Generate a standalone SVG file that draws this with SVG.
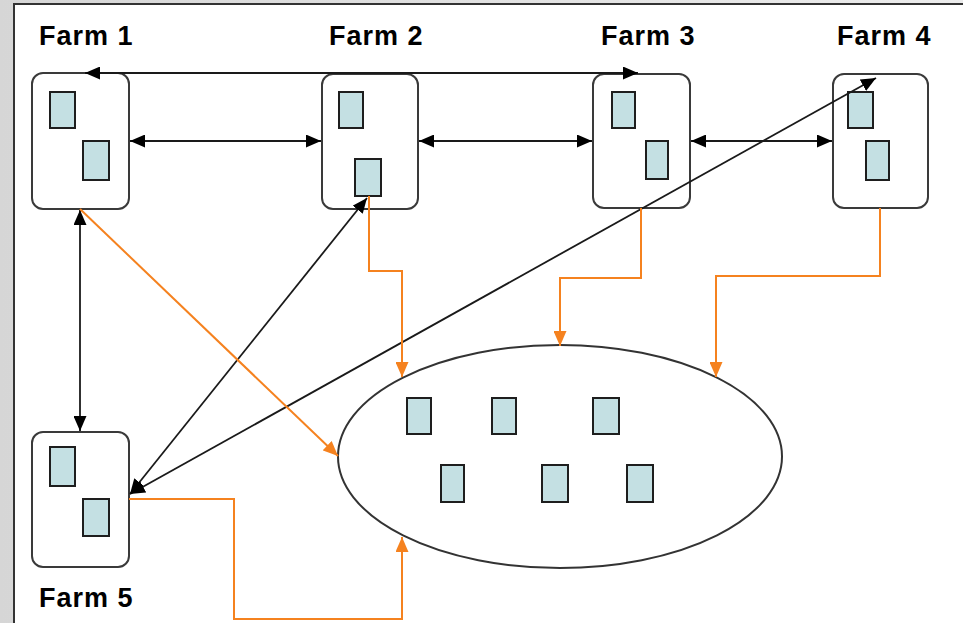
<svg xmlns="http://www.w3.org/2000/svg" width="963" height="623" viewBox="0 0 963 623">
  <style>
    .farm { fill: #ffffff; stroke: #3a3a3a; stroke-width: 2; }
    .host { fill: #c4e0e3; stroke: #1e1e1e; stroke-width: 2; }
    .label { font-family: "Liberation Sans", Arial, sans-serif; font-weight: bold; font-size: 27px; letter-spacing: 1px; fill: #000; }
    .link { fill: none; stroke: #1a1a1a; stroke-width: 1.8; }
    .flow { fill: none; stroke: #f5821f; stroke-width: 2; }
  </style>
  <defs>
    <linearGradient id="bg" x1="0" y1="0" x2="1" y2="0">
      <stop offset="0" stop-color="#d6d6d6"/>
      <stop offset="1" stop-color="#ececec"/>
    </linearGradient>
    <marker id="arrowEnd" viewBox="0 0 15 13" refX="15" refY="6.5" markerWidth="15" markerHeight="13" markerUnits="userSpaceOnUse" orient="auto">
      <path d="M0,0 L15,6.5 L0,13 Z" fill="#000"/>
    </marker>
    <marker id="arrowStart" viewBox="0 0 15 13" refX="0" refY="6.5" markerWidth="15" markerHeight="13" markerUnits="userSpaceOnUse" orient="auto">
      <path d="M15,0 L0,6.5 L15,13 Z" fill="#000"/>
    </marker>
    <marker id="flowEnd" viewBox="0 0 15 13" refX="15" refY="6.5" markerWidth="15" markerHeight="13" markerUnits="userSpaceOnUse" orient="auto">
      <path d="M0,0 L15,6.5 L0,13 Z" fill="#f5821f"/>
    </marker>
  </defs>

  <!-- page background and frame -->
  <rect x="0" y="0" width="963" height="623" fill="url(#bg)"/>
  <rect x="14" y="4" width="949" height="619" fill="#ffffff"/>
  <path d="M14,623 L14,4 L963,4" fill="none" stroke="#333" stroke-width="2"/>

  <!-- farms -->
  <g id="farm1">
    <text class="label" x="39" y="45">Farm 1</text>
    <rect class="farm" x="32" y="73" width="97" height="136" rx="11"/>
    <rect class="host" x="50" y="92" width="25" height="36"/>
    <rect class="host" x="83" y="141" width="26" height="39"/>
  </g>
  <g id="farm2">
    <text class="label" x="329" y="45">Farm 2</text>
    <rect class="farm" x="322" y="74" width="96" height="135" rx="11"/>
    <rect class="host" x="339" y="92" width="24" height="36"/>
    <rect class="host" x="355" y="159" width="26" height="37"/>
  </g>
  <g id="farm3">
    <text class="label" x="601" y="45">Farm 3</text>
    <rect class="farm" x="593" y="74" width="97" height="134" rx="11"/>
    <rect class="host" x="612" y="92" width="23" height="36"/>
    <rect class="host" x="646" y="141" width="22" height="38"/>
  </g>
  <g id="farm4">
    <text class="label" x="837" y="45">Farm 4</text>
    <rect class="farm" x="833" y="74" width="95" height="134" rx="11"/>
    <rect class="host" x="848" y="92" width="25" height="36"/>
    <rect class="host" x="866" y="141" width="23" height="39"/>
  </g>
  <g id="farm5">
    <rect class="farm" x="32" y="432" width="97" height="135" rx="11"/>
    <rect class="host" x="50" y="447" width="25" height="39"/>
    <rect class="host" x="83" y="499" width="26" height="37"/>
    <text class="label" x="39" y="607">Farm 5</text>
  </g>
  <g id="pool">
    <ellipse cx="560" cy="456.5" rx="222" ry="111.5" fill="#ffffff" stroke="#333" stroke-width="2"/>
    <rect class="host" x="407" y="398" width="24" height="36"/>
    <rect class="host" x="492" y="398" width="24" height="36"/>
    <rect class="host" x="593" y="398" width="26" height="36"/>
    <rect class="host" x="441" y="465" width="23" height="37"/>
    <rect class="host" x="542" y="465" width="26" height="37"/>
    <rect class="host" x="627" y="465" width="26" height="37"/>
  </g>

  <!-- connectors -->
  <g id="connectors">
    <!-- farm-to-farm links -->
    <line class="link" x1="85" y1="73" x2="638" y2="73" marker-start="url(#arrowStart)" marker-end="url(#arrowEnd)"/>
    <line class="link" x1="130" y1="141" x2="321" y2="141" marker-start="url(#arrowStart)" marker-end="url(#arrowEnd)"/>
    <line class="link" x1="419" y1="141" x2="592" y2="141" marker-start="url(#arrowStart)" marker-end="url(#arrowEnd)"/>
    <line class="link" x1="691" y1="141" x2="832" y2="141" marker-start="url(#arrowStart)" marker-end="url(#arrowEnd)"/>
    <line class="link" x1="80" y1="210" x2="80" y2="431" marker-start="url(#arrowStart)" marker-end="url(#arrowEnd)"/>
    <line class="link" x1="130" y1="494" x2="367" y2="198" marker-start="url(#arrowStart)" marker-end="url(#arrowEnd)"/>
    <line class="link" x1="130" y1="494" x2="876" y2="78" marker-start="url(#arrowStart)" marker-end="url(#arrowEnd)"/>

    <!-- flows into the pool -->
    <line class="flow" x1="80" y1="209" x2="338" y2="456" marker-end="url(#flowEnd)"/>
    <polyline class="flow" points="369,196 369,271 402,271 402,377" marker-end="url(#flowEnd)"/>
    <polyline class="flow" points="641,208 641,278 560,278 560,346" marker-end="url(#flowEnd)"/>
    <polyline class="flow" points="880,208 880,276 716,276 716,377" marker-end="url(#flowEnd)"/>
    <polyline class="flow" points="129,499 234,499 234,619 402,619 402,537" marker-end="url(#flowEnd)"/>
  </g>
</svg>
